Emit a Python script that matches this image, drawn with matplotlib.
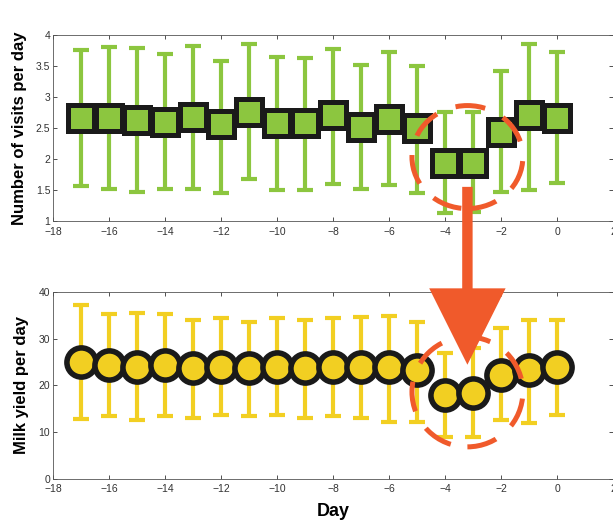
import matplotlib.pyplot as plt
import numpy as np
from matplotlib.patches import Ellipse, ConnectionPatch, ArrowStyle

plt.rcParams['font.family'] = ['Liberation Sans', 'DejaVu Sans']

# Data
days = np.arange(-17, 1)
visits = np.array([2.66, 2.66, 2.63, 2.60, 2.68, 2.56, 2.76, 2.58, 2.58,
                   2.71, 2.52, 2.64, 2.50, 1.94, 1.94, 2.44, 2.71, 2.66])
visits_low = np.array([1.56, 1.52, 1.47, 1.52, 1.52, 1.45, 1.68, 1.50, 1.50,
                       1.60, 1.51, 1.58, 1.45, 1.13, 1.15, 1.46, 1.50, 1.61])
visits_high = np.array([3.76, 3.80, 3.79, 3.69, 3.82, 3.58, 3.85, 3.64, 3.63,
                        3.77, 3.52, 3.72, 3.49, 2.75, 2.75, 3.41, 3.85, 3.72])
milk = np.array([25.0, 24.4, 24.0, 24.4, 23.7, 24.0, 23.7, 24.0, 23.7,
                 24.0, 24.0, 24.0, 23.3, 18.0, 18.4, 22.2, 23.3, 24.0])
milk_low = np.array([12.8, 13.5, 12.6, 13.5, 13.0, 13.7, 13.4, 13.7, 13.0,
                     13.4, 13.0, 12.2, 12.2, 9.0, 9.0, 12.6, 12.0, 13.7])
milk_high = np.array([37.2, 35.3, 35.5, 35.3, 34.0, 34.4, 33.6, 34.4, 34.0,
                      34.4, 34.7, 34.9, 33.6, 27.0, 28.0, 32.3, 34.0, 34.0])

green = '#8cc63f'
yellow = '#f2cf22'
orange = '#f05a2b'
edge = '#1a1a1a'

fig = plt.figure(figsize=(6.13, 5.20), dpi=100)
ax1 = fig.add_axes([0.0865, 0.575, 0.9135, 0.358])
ax2 = fig.add_axes([0.0865, 0.079, 0.9135, 0.36])

# top panel: visits
ax1.errorbar(days, visits, yerr=[visits - visits_low, visits_high - visits],
             fmt='none', ecolor=green, elinewidth=3, capsize=5.5, capthick=3, zorder=2)
ax1.plot(days, visits, 's', ms=18.5, mfc=green, mec=edge, mew=3.6, zorder=3)
ax1.set_ylim(1, 4)
ax1.set_yticks(np.arange(1, 4.01, 0.5))
ax1.set_yticklabels(['1', '1.5', '2', '2.5', '3', '3.5', '4'])
ax1.set_ylabel('Number of visits per day', fontsize=12, fontweight='bold', labelpad=6)

# bottom panel: milk yield
ax2.errorbar(days, milk, yerr=[milk - milk_low, milk_high - milk],
             fmt='none', ecolor=yellow, elinewidth=3, capsize=5.5, capthick=3, zorder=2)
ax2.plot(days, milk, 'o', ms=21, mfc=yellow, mec=edge, mew=4, zorder=3)
ax2.set_ylim(0, 40)
ax2.set_yticks([0, 10, 20, 30, 40])
ax2.set_ylabel('Milk yield per day', fontsize=12, fontweight='bold', labelpad=7)
ax2.set_xlabel('Day', fontsize=13, fontweight='bold', labelpad=6)

for ax in (ax1, ax2):
    ax.set_xlim(-18, 2)
    ax.set_xticks(np.arange(-18, 3, 2))
    ax.tick_params(direction='in', length=3, width=0.6, labelsize=7.5,
                   top=True, right=True, pad=2, colors='#333333')
    ax.tick_params(axis='x', pad=4)
    for s in ax.spines.values():
        s.set_linewidth(0.6)
        s.set_color('#555555')

# dashed rings around the dip
dip_x = days[13:15].mean() + 0.3
ax1.add_patch(Ellipse((dip_x, visits[13:15].mean() + 0.09), 3.96, 1.66, fill=False,
                      ec=orange, lw=3.6, ls=(0, (6, 4)), zorder=5))
ax2.add_patch(Ellipse((dip_x, milk[13:15].mean() + 0.4), 3.96, 23.5, fill=False,
                      ec=orange, lw=3.6, ls=(0, (6, 4)), zorder=5))

# big arrow from top to bottom panel
arrow = ConnectionPatch(xyA=(dip_x, 1.55), coordsA=ax1.transData,
                        xyB=(dip_x, 24.4), coordsB=ax2.transData,
                        arrowstyle=ArrowStyle.Simple(head_length=55, head_width=55, tail_width=7.5),
                        mutation_scale=1, shrinkA=0, shrinkB=0,
                        fc=orange, ec=orange, lw=0, zorder=6)
fig.add_artist(arrow)

fig.savefig('out.png', dpi=100)
